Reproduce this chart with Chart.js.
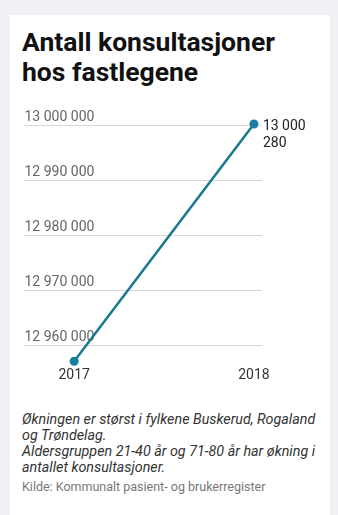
<!DOCTYPE html>
<html>
<head>
<meta charset="utf-8">
<script src="https://cdn.jsdelivr.net/npm/chart.js@4"></script>
<style>
  html, body { margin: 0; padding: 0; }
  body { width: 338px; height: 515px; background: #eef0f4; font-family: Roboto, sans-serif; position: relative; overflow: hidden; }
  .card { position: absolute; left: 10px; top: 15px; width: 320px; height: 520px; background: #fff; }
  h1 { position: absolute; left: 22px; top: 27px; margin: 0; font-size: 26.5px; line-height: 30px; font-weight: 700; color: #111; }
  .wrap { position: absolute; left: 19px; top: 100px; width: 303px; height: 290px; }
  .note { position: absolute; left: 22px; top: 411px; width: 305px; margin: 0; font-size: 14.3px; line-height: 16px; font-style: italic; color: #333; }
  .src { position: absolute; left: 22px; top: 479px; margin: 0; font-size: 12.5px; color: #777; }
</style>
</head>
<body>
<div class="card"></div>
<h1>Antall konsultasjoner<br>hos fastlegene</h1>
<div class="wrap"><canvas id="chart"></canvas></div>
<p class="note">Økningen er størst i fylkene Buskerud, Rogaland<br>og Trøndelag.<br>Aldersgruppen 21-40 år og 71-80 år har økning i<br>antallet konsultasjoner.</p>
<p class="src">Kilde: Kommunalt pasient- og brukerregister</p>
<script>
var years = [2017, 2018];
var consultations = [12957200, 13000280];
var yTicks = [12960000, 12970000, 12980000, 12990000, 13000000];

function spaced(v) {
  return String(Math.round(v)).replace(/\B(?=(\d{3})+(?!\d))/g, ' ');
}

var endLabel = {
  id: 'endLabel',
  afterDatasetsDraw: function(chart) {
    var meta = chart.getDatasetMeta(0);
    var last = meta.data[meta.data.length - 1];
    var parts = spaced(consultations[consultations.length - 1]).split(' ');
    var ctx = chart.ctx;
    ctx.save();
    ctx.font = '14px Roboto, sans-serif';
    ctx.fillStyle = '#222';
    ctx.textBaseline = 'middle';
    ctx.textAlign = 'left';
    ctx.fillText(parts.slice(0, 2).join(' '), last.x + 9, last.y + 2);
    ctx.fillText(parts.slice(2).join(' '), last.x + 9, last.y + 19);
    ctx.restore();
  }
};

new Chart(document.getElementById('chart'), {
  type: 'line',
  data: {
    datasets: [{
      data: years.map(function(y, i) { return { x: y, y: consultations[i] }; }),
      borderColor: '#17788e',
      borderWidth: 2.5,
      pointRadius: 4.5,
      pointBackgroundColor: '#1a7ea0',
      pointBorderWidth: 0,
      tension: 0,
      clip: false
    }]
  },
  plugins: [endLabel],
  options: {
    responsive: true,
    maintainAspectRatio: false,
    animation: false,
    layout: { padding: { top: 24, right: 60, left: 0, bottom: 0 } },
    plugins: { legend: { display: false }, tooltip: { enabled: false } },
    scales: {
      x: {
        type: 'linear',
        min: 2016.718,
        max: 2018.045,
        afterBuildTicks: function(axis) {
          axis.ticks = years.map(function(y) { return { value: y }; });
        },
        grid: { display: false, drawTicks: false },
        border: { display: false },
        ticks: {
          color: '#333',
          font: { size: 14, family: 'Roboto' },
          padding: 6,
          maxRotation: 0,
          callback: function(v) { return String(v); }
        }
      },
      y: {
        min: consultations[0],
        max: consultations[1],
        afterBuildTicks: function(axis) {
          axis.ticks = yTicks.map(function(v) { return { value: v }; });
        },
        grid: { color: '#d6d6d6', drawTicks: false, lineWidth: 1 },
        border: { display: false },
        ticks: {
          mirror: true,
          padding: 1,
          labelOffset: -8,
          color: '#666',
          font: { size: 14, family: 'Roboto' },
          callback: function(v) { return spaced(v); }
        }
      }
    }
  }
});
</script>
</body>
</html>
